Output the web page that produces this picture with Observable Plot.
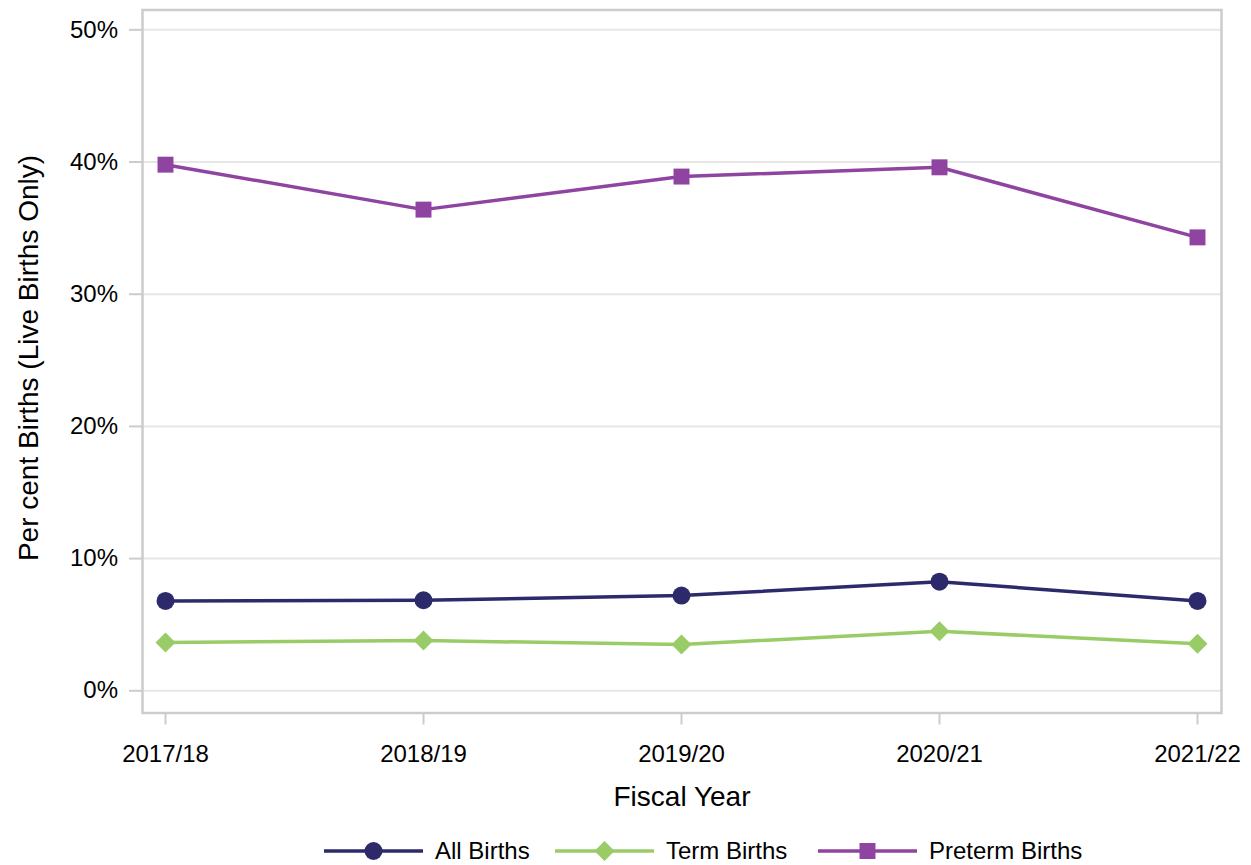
<!DOCTYPE html>
<html>
<head>
<meta charset="utf-8">
<script src="https://cdn.jsdelivr.net/npm/d3@7"></script>
<script src="https://cdn.jsdelivr.net/npm/@observablehq/plot@0.6"></script>
<style>
  body { margin: 0; background: #fff; font-family: Arial, "Liberation Sans", sans-serif; }
  #legend { position: relative; width: 1251px; height: 45px; }
  .item { position: absolute; top: 19px; height: 24px; display: flex; align-items: center; font-size: 24px; color: #000; white-space: nowrap; }
  .item span { margin-left: 12px; }
</style>
</head>
<body>
<div id="chart"></div>
<div id="legend"></div>
<script>
const years = ["2017/18", "2018/19", "2019/20", "2020/21", "2021/22"];
const seriesNames = ["All Births", "Term Births", "Preterm Births"];
const allBirths = [6.8, 6.85, 7.2, 8.25, 6.8];
const termBirths = [3.65, 3.8, 3.5, 4.5, 3.55];
const pretermBirths = [39.8, 36.4, 38.9, 39.6, 34.3];
const seriesColors = ["#2c2a6b", "#99cc66", "#8e44a0"];
const seriesSymbols = ["circle", "diamond2", "square"];
const yTicks = [0, 10, 20, 30, 40, 50];

const seriesValues = [allBirths, termBirths, pretermBirths];
const data = [];
seriesNames.forEach((s, i) => {
  years.forEach((y, j) => data.push({ series: s, year: y, value: seriesValues[i][j] }));
});

const fontFamily = 'Arial, "Liberation Sans", sans-serif';

const chart = Plot.plot({
  width: 1251,
  height: 820,
  marginLeft: 142,
  marginRight: 30,
  marginTop: 9.5,
  marginBottom: 107.5,
  style: { fontFamily, background: "#fff", color: "#000" },
  x: { type: "point", domain: years, range: [163.3, 1198.3], padding: 0 },
  y: { domain: [-1.68, 51.5] },
  color: { domain: seriesNames, range: seriesColors },
  symbol: { domain: seriesNames, range: seriesSymbols },
  marks: [
    Plot.gridY(yTicks, { stroke: "#e6e6e6", strokeOpacity: 1, strokeWidth: 2 }),
    Plot.frame({ stroke: "#cccccc", strokeWidth: 2.5 }),
    Plot.axisY(yTicks, {
      tickSize: 13, tickPadding: 11.5, tickFormat: d => d + "%",
      fontSize: 24, stroke: "#cccccc", strokeWidth: 2, strokeOpacity: 1, fill: "#000", label: null
    }),
    Plot.axisX({
      tickSize: 12, tickPadding: 19.5, fontSize: 24,
      stroke: "#cccccc", strokeWidth: 2, strokeOpacity: 1, fill: "#000", label: null
    }),
    Plot.text(["Fiscal Year"], {
      text: d => d, frameAnchor: "bottom", lineAnchor: "top", dy: 73.5, fontSize: 28, fill: "#000"
    }),
    Plot.text(["Per cent Births (Live Births Only)"], {
      text: d => d, frameAnchor: "left", rotate: -90, textAnchor: "middle", lineAnchor: "middle",
      dx: -113, dy: -3.5, fontSize: 28, fill: "#000"
    }),
    Plot.line(data, { x: "year", y: "value", z: "series", stroke: "series", strokeWidth: 3.5 }),
    Plot.dot(data, { x: "year", y: "value", fill: "series", symbol: "series", r: 9, stroke: "none" })
  ]
});
document.getElementById("chart").appendChild(chart);

// Legend
const legend = document.getElementById("legend");
const lefts = [324, 555, 818];
const d3Symbols = { circle: d3.symbolCircle, diamond2: d3.symbolDiamond2, square: d3.symbolSquare };
seriesNames.forEach((s, i) => {
  const item = document.createElement("div");
  item.className = "item";
  item.style.left = lefts[i] + "px";
  const path = d3.symbol(d3Symbols[seriesSymbols[i]], Math.PI * 81)();
  item.innerHTML =
    `<svg width="99" height="24" viewBox="0 0 99 24">
       <line x1="0" x2="99" y1="12" y2="12" stroke="${seriesColors[i]}" stroke-width="3.5"/>
       <path d="${path}" transform="translate(49.5,12)" fill="${seriesColors[i]}"/>
     </svg><span>${s}</span>`;
  legend.appendChild(item);
});
</script>
</body>
</html>
